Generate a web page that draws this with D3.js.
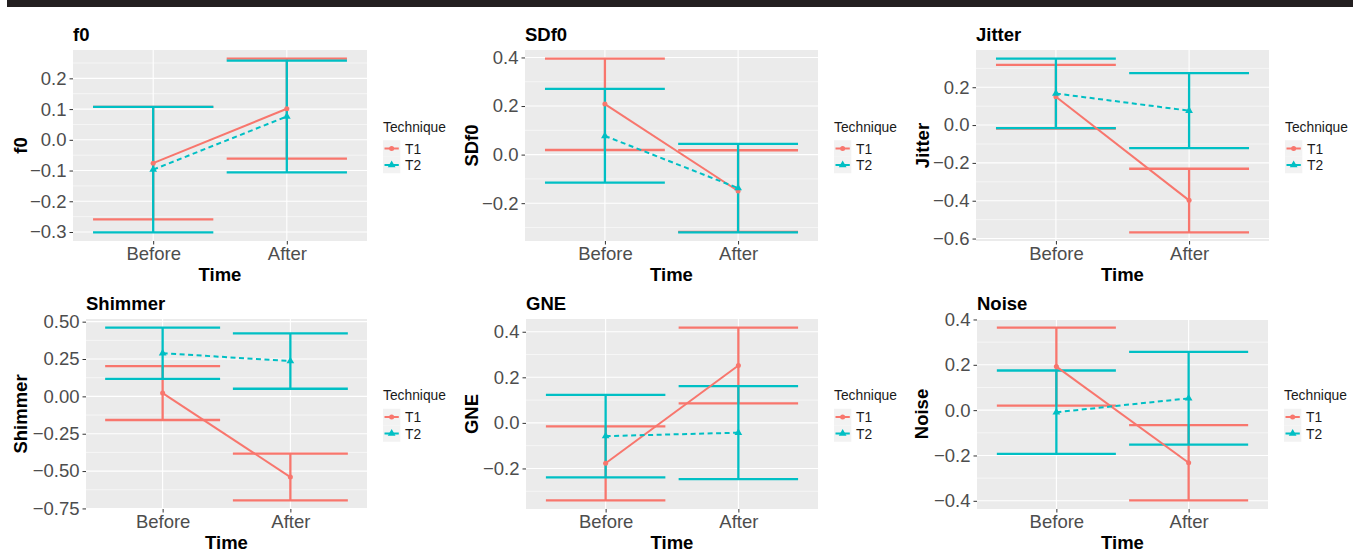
<!DOCTYPE html>
<html>
<head>
<meta charset="utf-8">
<script src="https://cdn.jsdelivr.net/npm/d3@7"></script>
<style>
  html, body { margin: 0; padding: 0; background: #fff; }
  svg { display: block; font-family: "Liberation Sans", Arial, Helvetica, sans-serif; }
</style>
</head>
<body>
<svg id="chart" width="1363" height="556"></svg>
<script>
// ---------------- data ----------------
const metrics = ["f0", "SDf0", "Jitter", "Shimmer", "GNE", "Noise"];
const times = ["Before", "After"];
const techniques = ["T1", "T2"];

// each entry: [Before, After]
const t1Mean  = [[-0.076, 0.101], [0.208, -0.150], [0.150, -0.398], [0.022, -0.540], [-0.177, 0.252], [0.192, -0.232]];
const t1Lower = [[-0.259, -0.061], [0.019, -0.318], [-0.018, -0.567], [-0.158, -0.696], [-0.340, 0.086], [0.020, -0.398]];
const t1Upper = [[0.107, 0.264], [0.395, 0.018], [0.318, -0.231], [0.202, -0.383], [-0.015, 0.418], [0.364, -0.066]];

const t2Mean  = [[-0.097, 0.076], [0.077, -0.138], [0.167, 0.076], [0.289, 0.236], [-0.058, -0.043], [-0.009, 0.052]];
const t2Lower = [[-0.301, -0.106], [-0.115, -0.320], [-0.016, -0.122], [0.117, 0.051], [-0.239, -0.247], [-0.193, -0.152]];
const t2Upper = [[0.107, 0.258], [0.271, 0.044], [0.351, 0.275], [0.460, 0.422], [0.123, 0.161], [0.175, 0.257]];

const yTickValues = [
  [-0.3, -0.2, -0.1, 0.0, 0.1, 0.2],
  [-0.2, 0.0, 0.2, 0.4],
  [-0.6, -0.4, -0.2, 0.0, 0.2],
  [-0.75, -0.5, -0.25, 0.0, 0.25, 0.5],
  [-0.2, 0.0, 0.2, 0.4],
  [-0.4, -0.2, 0.0, 0.2, 0.4]
];
const yTickLabels = [
  ["\u22120.3", "\u22120.2", "\u22120.1", "0.0", "0.1", "0.2"],
  ["\u22120.2", "0.0", "0.2", "0.4"],
  ["\u22120.6", "\u22120.4", "\u22120.2", "0.0", "0.2"],
  ["\u22120.75", "\u22120.50", "\u22120.25", "0.00", "0.25", "0.50"],
  ["\u22120.2", "0.0", "0.2", "0.4"],
  ["\u22120.4", "\u22120.2", "0.0", "0.2", "0.4"]
];

// ---------------- layout ----------------
const plotBoxes = [
  [73, 50, 367, 241], [525, 50, 818, 241], [976, 50, 1269, 241],
  [86, 319, 367, 509], [526, 319, 818, 509], [977, 319, 1268, 509]
];
const yTitleX = [27, 478, 929, 27, 478, 928];
const colors = { T1: "#F8766D", T2: "#00BFC4" };
const FONT = "'Liberation Sans', Arial, Helvetica, sans-serif";

const svg = d3.select("#chart");
svg.append("rect").attr("x", 0).attr("y", 0).attr("width", 1363).attr("height", 556).attr("fill", "#fff");
svg.append("rect").attr("x", 7).attr("y", 0).attr("width", 1346).attr("height", 7).attr("fill", "#231F20");

const seriesData = {
  T1: { mean: t1Mean, lo: t1Lower, hi: t1Upper },
  T2: { mean: t2Mean, lo: t2Lower, hi: t2Upper }
};

metrics.forEach((m, i) => {
  const [L, T, R, B] = plotBoxes[i];
  const g = svg.append("g");

  const allVals = [];
  techniques.forEach(t => {
    seriesData[t].lo[i].forEach(v => allVals.push(v));
    seriesData[t].hi[i].forEach(v => allVals.push(v));
  });
  const [mn, mx] = d3.extent(allVals);
  const pad = (mx - mn) * 0.05;

  const x = d3.scalePoint().domain(times).range([L, R]).padding(0.6);
  const y = d3.scaleLinear().domain([mn - pad, mx + pad]).range([B, T]);
  const step = x.step();

  // panel background
  g.append("rect").attr("x", L).attr("y", T).attr("width", R - L).attr("height", B - T).attr("fill", "#EBEBEB");

  // minor grid
  const ticks = yTickValues[i];
  const d = ticks[1] - ticks[0];
  const minors = [];
  for (let k = -1; k < ticks.length; k++) {
    const v = ticks[0] + d * (k + 0.5);
    if (v > y.domain()[0] && v < y.domain()[1]) minors.push(v);
  }
  g.selectAll(".minor").data(minors).enter().append("line")
    .attr("x1", L).attr("x2", R).attr("y1", v => y(v)).attr("y2", v => y(v))
    .attr("stroke", "#fff").attr("stroke-width", 0.55);
  // major grid
  g.selectAll(".major").data(ticks).enter().append("line")
    .attr("x1", L).attr("x2", R).attr("y1", v => y(v)).attr("y2", v => y(v))
    .attr("stroke", "#fff").attr("stroke-width", 1.1);
  g.selectAll(".vmajor").data(times).enter().append("line")
    .attr("x1", v => x(v)).attr("x2", v => x(v)).attr("y1", T).attr("y2", B)
    .attr("stroke", "#fff").attr("stroke-width", 1.1);

  // axes
  const yAxis = d3.axisLeft(y).tickValues(ticks)
    .tickFormat((v, j) => yTickLabels[i][j]).tickSize(3.5).tickPadding(3);
  const ya = g.append("g").attr("transform", `translate(${L},0)`).call(yAxis);
  ya.select(".domain").remove();
  ya.selectAll(".tick line").attr("stroke", "#333").attr("stroke-width", 1);
  ya.selectAll(".tick text").attr("fill", "#4D4D4D").style("font-size", "18.5px").style("font-family", FONT);

  const xAxis = d3.axisBottom(x).tickSize(3.5).tickPadding(2.5);
  const xa = g.append("g").attr("transform", `translate(0,${B})`).call(xAxis);
  xa.select(".domain").remove();
  xa.selectAll(".tick line").attr("stroke", "#333").attr("stroke-width", 1);
  xa.selectAll(".tick text").attr("fill", "#4D4D4D").style("font-size", "18.5px").style("font-family", FONT);

  // error bars
  techniques.forEach(t => {
    const s = seriesData[t];
    const eb = g.append("g").attr("stroke", colors[t]).attr("stroke-width", 2.3).attr("fill", "none");
    times.forEach((tm, j) => {
      const cx = x(tm);
      const lo = s.lo[i][j], hi = s.hi[i][j];
      eb.append("line").attr("x1", cx).attr("x2", cx).attr("y1", y(lo)).attr("y2", y(hi));
      eb.append("line").attr("x1", cx - 0.45 * step).attr("x2", cx + 0.45 * step).attr("y1", y(lo)).attr("y2", y(lo));
      eb.append("line").attr("x1", cx - 0.45 * step).attr("x2", cx + 0.45 * step).attr("y1", y(hi)).attr("y2", y(hi));
    });
  });

  // mean lines
  techniques.forEach(t => {
    const s = seriesData[t];
    const line = d3.line().x((v, j) => x(times[j])).y(v => y(v));
    g.append("path").attr("d", line(s.mean[i]))
      .attr("fill", "none").attr("stroke", colors[t]).attr("stroke-width", 2)
      .attr("stroke-dasharray", t === "T2" ? "5,3.5" : null);
  });

  // points
  techniques.forEach(t => {
    const s = seriesData[t];
    const sym = d3.symbol().type(t === "T1" ? d3.symbolCircle : d3.symbolTriangle).size(t === "T1" ? 20 : 26);
    s.mean[i].forEach((v, j) => {
      g.append("path").attr("d", sym()).attr("transform", `translate(${x(times[j])},${y(v)})`).attr("fill", colors[t]);
    });
  });

  // titles
  g.append("text").attr("x", L).attr("y", T - 9).text(m)
    .style("font-size", "18.5px").style("font-weight", "bold").style("font-family", FONT).attr("fill", "#000");
  g.append("text").attr("x", (L + R) / 2).attr("y", B + 39.5).attr("text-anchor", "middle").text("Time")
    .style("font-size", "18.5px").style("font-weight", "bold").style("font-family", FONT).attr("fill", "#000");
  g.append("text").attr("transform", `translate(${yTitleX[i]},${(T + B) / 2}) rotate(-90)`)
    .attr("text-anchor", "middle").text(m)
    .style("font-size", "18.5px").style("font-weight", "bold").style("font-family", FONT).attr("fill", "#000");

  // legend
  const lx = R + 16;
  const cy = (T + B) / 2;
  const lg = g.append("g");
  lg.append("text").attr("x", lx).attr("y", cy - 14).text("Technique")
    .style("font-size", "13.8px").style("font-family", FONT).attr("fill", "#1a1a1a");
  techniques.forEach((t, k) => {
    const kc = cy + 3 + k * 16.5;
    lg.append("rect").attr("x", lx).attr("y", kc - 8.25).attr("width", 17.3).attr("height", 16.5).attr("fill", "#F2F2F2");
    lg.append("line").attr("x1", lx + 1.5).attr("x2", lx + 15.8).attr("y1", kc).attr("y2", kc)
      .attr("stroke", colors[t]).attr("stroke-width", 2);
    const sym = d3.symbol().type(t === "T1" ? d3.symbolCircle : d3.symbolTriangle).size(t === "T1" ? 20 : 26);
    lg.append("path").attr("d", sym()).attr("transform", `translate(${lx + 8.65},${kc})`).attr("fill", colors[t]);
    lg.append("text").attr("x", lx + 22).attr("y", kc + 5).text(t)
      .style("font-size", "13.8px").style("font-family", FONT).attr("fill", "#1a1a1a");
  });
});
</script>
</body>
</html>
